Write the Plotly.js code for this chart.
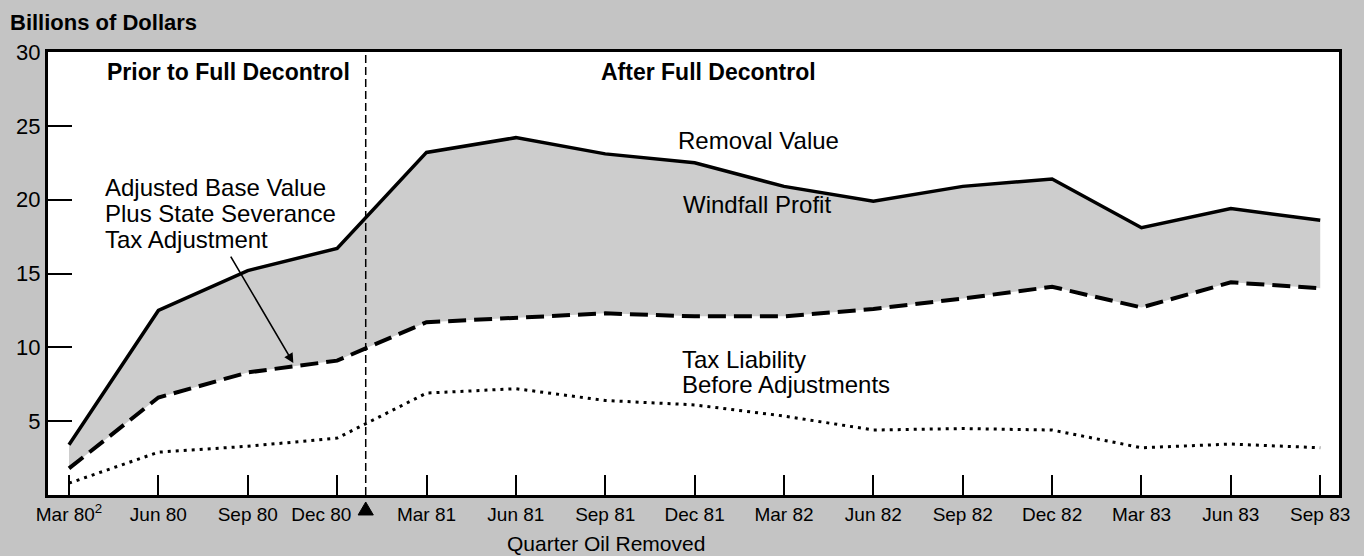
<!DOCTYPE html>
<html>
<head>
<meta charset="utf-8">
<script src="https://cdn.plot.ly/plotly-3.0.1.min.js"></script>
<style>
  html, body { margin: 0; padding: 0; background: #c4c4c4; }
  #chart { width: 1364px; height: 556px; }
</style>
</head>
<body>
<div id="chart"></div>
<script>
// Data (billions of dollars)
const quarters = ["Mar 80","Jun 80","Sep 80","Dec 80","Mar 81","Jun 81","Sep 81","Dec 81",
                  "Mar 82","Jun 82","Sep 82","Dec 82","Mar 83","Jun 83","Sep 83"];
const tickLabels = ["Mar 80<sup>2</sup>","Jun 80","Sep 80","Dec 80&nbsp;&nbsp;&nbsp;&nbsp;&nbsp;&nbsp;","Mar 81","Jun 81","Sep 81","Dec 81",
                    "Mar 82","Jun 82","Sep 82","Dec 82","Mar 83","Jun 83","Sep 83"];
const removalValue = [3.4, 12.5, 15.2, 16.7, 23.2, 24.2, 23.1, 22.5, 20.9, 19.9, 20.9, 21.4, 18.1, 19.4, 18.6];
const adjustedBase = [1.8, 6.6, 8.3, 9.1, 11.7, 12.0, 12.3, 12.1, 12.1, 12.6, 13.3, 14.1, 12.7, 14.4, 14.0];
const taxLiability = [0.8, 2.9, 3.3, 3.85, 6.9, 7.2, 6.4, 6.1, 5.35, 4.4, 4.5, 4.4, 3.2, 3.45, 3.2];
const yTicks = [5, 10, 15, 20, 25, 30];
const decontrolPoint = 3.32; // full decontrol, between Dec 80 and Mar 81

const xIdx = quarters.map((q, i) => i);
const FONT = "Liberation Sans, Arial, Helvetica, sans-serif";

const traces = [
  {
    x: xIdx, y: adjustedBase, type: "scatter", mode: "lines",
    line: { color: "#000", width: 4, dash: "18px,8px" },
    hoverinfo: "skip", showlegend: false
  },
  {
    x: xIdx, y: removalValue, type: "scatter", mode: "lines",
    fill: "tonexty", fillcolor: "#cdcdcd",
    line: { color: "#000", width: 3.5 },
    hoverinfo: "skip", showlegend: false
  },
  {
    x: xIdx, y: taxLiability, type: "scatter", mode: "lines",
    line: { color: "#000", width: 3, dash: "3px,5px" },
    hoverinfo: "skip", showlegend: false
  }
];

function txt(text, x, y, opts, size) {
  return Object.assign({
    text: text, x: x, y: y, xref: "x", yref: "y", showarrow: false,
    yanchor: "middle",
    font: { family: FONT, size: size || 24, color: "#000" }
  }, opts || {});
}
function ptxt(text, x, y, opts, size, family) {
  return Object.assign({
    text: text, x: x, y: y, xref: "paper", yref: "paper", showarrow: false,
    xanchor: "center", yanchor: "middle",
    font: { family: family || FONT, size: size || 22, color: "#000" }
  }, opts || {});
}

const annotations = [
  ptxt("<b>Billions of Dollars</b>", -0.031, 1.0677, { xanchor: "left" }, 22),
  txt("<b>Prior to Full Decontrol</b>", 1.78, 28.64, {}, 23),
  txt("<b>After Full Decontrol</b>", 7.15, 28.64, {}, 23),
  txt("Removal Value", 7.71, 24.04),
  txt("Windfall Profit", 7.70, 19.7),
  txt("Tax Liability", 6.84, 9.2, { xanchor: "left" }),
  txt("Before Adjustments", 6.84, 7.45, { xanchor: "left" }),
  txt("Adjusted Base Value", 0.38, 20.85, { xanchor: "left" }),
  txt("Plus State Severance", 0.38, 19.09, { xanchor: "left" }),
  txt("Tax Adjustment", 0.38, 17.33, { xanchor: "left" }),
  {
    text: "", x: 2.51, y: 8.94, ax: 1.80, ay: 16.25, axref: "x", ayref: "y",
    xref: "x", yref: "y", showarrow: true, arrowhead: 2, arrowsize: 1.2,
    arrowwidth: 1.6, arrowcolor: "#000", standoff: 0
  },
  ptxt("Quarter Oil Removed", 0.4322, -0.1084, {}, 21)
];

// small triangle marking the decontrol date, just below the x axis
const triHalf = 0.085, triTop = -0.0158, triBase = -0.0451;
const triPath = "M " + (decontrolPoint - triHalf) + "," + triBase +
                " L " + (decontrolPoint + triHalf) + "," + triBase +
                " L " + decontrolPoint + "," + triTop + " Z";

const layout = {
  width: 1364, height: 556,
  margin: { l: 48, r: 25, t: 52, b: 61, pad: 0 },
  paper_bgcolor: "#c4c4c4",
  plot_bgcolor: "#ffffff",
  showlegend: false,
  xaxis: {
    range: [-0.235, 14.21], tickmode: "array", tickvals: xIdx, ticktext: tickLabels,
    ticks: "inside", ticklen: 20, tickwidth: 2, tickcolor: "#000",
    showline: true, linecolor: "#000", linewidth: 3, mirror: true,
    showgrid: false, zeroline: false,
    tickfont: { family: FONT, size: 19, color: "#000" }
  },
  yaxis: {
    range: [0, 30], tickmode: "array", tickvals: yTicks,
    ticks: "inside", ticklen: 24, tickwidth: 2, tickcolor: "#000",
    showline: true, linecolor: "#000", linewidth: 3, mirror: true,
    showgrid: false, zeroline: false,
    tickfont: { family: FONT, size: 22, color: "#000" }
  },
  shapes: [
    {
      type: "line", xref: "x", yref: "y", x0: decontrolPoint, x1: decontrolPoint, y0: 0, y1: 30,
      line: { color: "#000", width: 1.5, dash: "8px,4px" }
    },
    {
      type: "path", xref: "x", yref: "paper", path: triPath,
      fillcolor: "#000", line: { color: "#000", width: 1 }
    }
  ],
  annotations: annotations
};

Plotly.newPlot("chart", traces, layout, { staticPlot: true, displayModeBar: false });
</script>
</body>
</html>
